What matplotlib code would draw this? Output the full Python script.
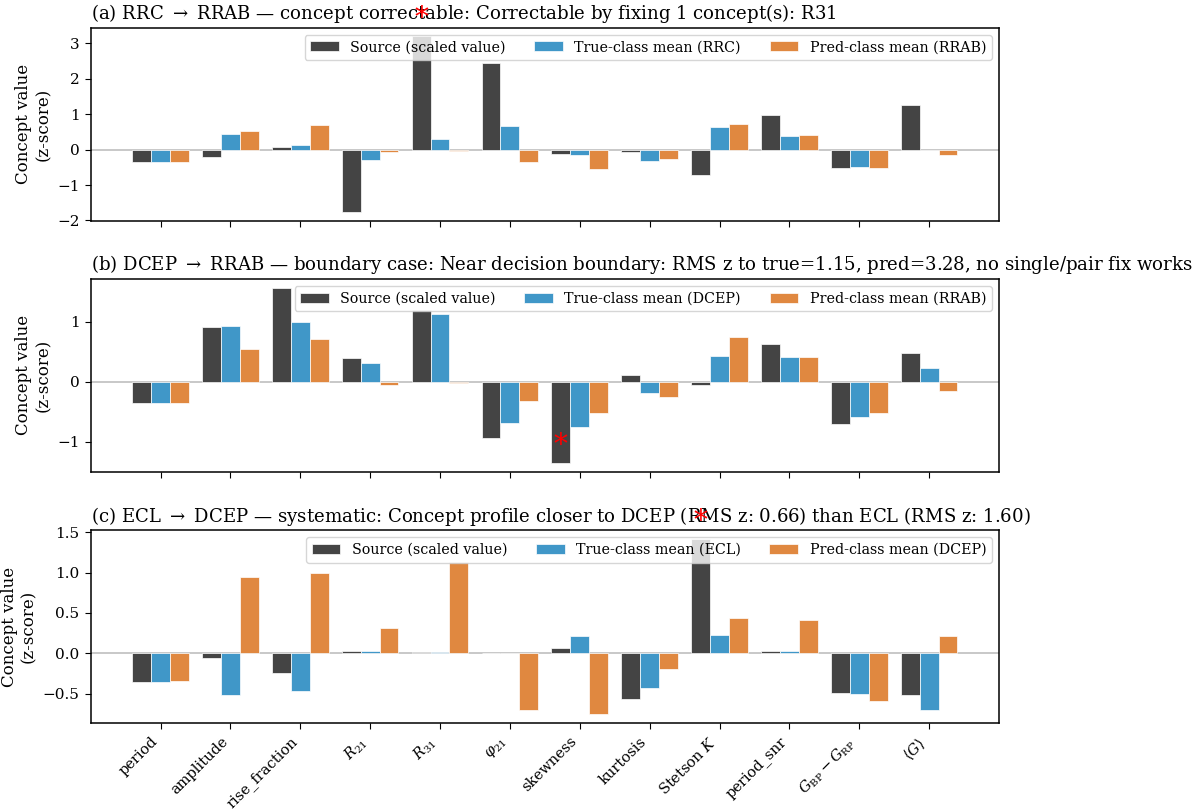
import numpy as np
import matplotlib
matplotlib.use("Agg")
import matplotlib.pyplot as plt

plt.rcParams['font.family'] = 'DejaVu Serif'
plt.rcParams['mathtext.fontset'] = 'dejavuserif'

concepts = ["period", "amplitude", "rise_fraction", r"$R_{21}$", r"$R_{31}$",
            r"$\varphi_{21}$", "skewness", "kurtosis", r"Stetson $K$", "period_snr",
            r"$G_{\rm BP}-G_{\rm RP}$", r"$\langle G\rangle$"]

# panel (a) RRC -> RRAB
src_a = [-0.36, -0.22, 0.08, -1.76, 3.20, 2.45, -0.11, -0.06, -0.73, 0.98, -0.52, 1.27]
true_a = [-0.36, 0.45, 0.12, -0.28, 0.29, 0.68, -0.15, -0.33, 0.65, 0.39, -0.49, 0.00]
pred_a = [-0.36, 0.54, 0.70, -0.07, -0.04, -0.34, -0.55, -0.26, 0.73, 0.40, -0.53, -0.15]

# panel (b) DCEP -> RRAB
src_b = [-0.35, 0.91, 1.57, 0.39, 1.20, -0.94, -1.36, 0.11, -0.05, 0.63, -0.70, 0.47]
true_b = [-0.35, 0.93, 0.99, 0.31, 1.13, -0.69, -0.76, -0.19, 0.43, 0.41, -0.59, 0.22]
pred_b = [-0.36, 0.55, 0.71, -0.05, -0.03, -0.33, -0.53, -0.25, 0.74, 0.41, -0.52, -0.15]

# panel (c) ECL -> DCEP
src_c = [-0.36, -0.06, -0.24, 0.025, 0.02, 0.0, 0.066, -0.57, 1.42, 0.03, -0.49, -0.52]
true_c = [-0.36, -0.52, -0.47, 0.025, 0.02, 0.0, 0.21, -0.43, 0.23, 0.03, -0.50, -0.70]
pred_c = [-0.35, 0.94, 0.99, 0.31, 1.13, -0.70, -0.76, -0.19, 0.44, 0.41, -0.59, 0.21]

titles = [r"(a) RRC $\rightarrow$ RRAB — concept correctable: Correctable by fixing 1 concept(s): R31",
          r"(b) DCEP $\rightarrow$ RRAB — boundary case: Near decision boundary: RMS z to true=1.15, pred=3.28, no single/pair fix works",
          r"(c) ECL $\rightarrow$ DCEP — systematic: Concept profile closer to DCEP (RMS z: 0.66) than ECL (RMS z: 1.60)"]
true_cls = ["RRC", "DCEP", "ECL"]
pred_cls = ["RRAB", "RRAB", "DCEP"]
starred = [4, 6, 8]

panels = [(src_a, true_a, pred_a), (src_b, true_b, pred_b), (src_c, true_c, pred_c)]

c_src = '#444444'
c_true = '#4097c8'
c_pred = '#e08840'

fig, axes = plt.subplots(3, 1, figsize=(12, 8.09), dpi=100, sharex=True)
plt.subplots_adjust(left=0.0756, right=0.8325, top=0.966, bottom=0.106, hspace=0.30)

x = np.arange(len(concepts))
w = 0.27
for i, ax in enumerate(axes):
    s, t, p = panels[i]
    ax.axhline(0, color='0.75', lw=1.2, zorder=1)
    ax.bar(x - w, s, w, color=c_src, edgecolor='white', linewidth=0.5,
           label="Source (scaled value)", zorder=2)
    ax.bar(x, t, w, color=c_true, edgecolor='white', linewidth=0.5,
           label="True-class mean ({})".format(true_cls[i]), zorder=2)
    ax.bar(x + w, p, w, color=c_pred, edgecolor='white', linewidth=0.5,
           label="Pred-class mean ({})".format(pred_cls[i]), zorder=2)
    ax.set_xlim(-1, 12)
    ax.set_title(titles[i], loc='left', fontsize=13.1)
    ax.set_ylabel("Concept value\n(z-score)", fontsize=12)
    ax.tick_params(axis='y', labelsize=11, length=4.5)
    ax.tick_params(axis='x', labelsize=10.5, length=4.5)
    ax.legend(loc='upper right', ncol=3, fontsize=10.3)
    for sp in ax.spines.values():
        sp.set_linewidth(1.1)
    # red marker on the concept that matters
    lo, hi = ax.get_ylim()
    k = starred[i]
    ax.text(k - w, s[k] + 0.09 * (hi - lo), "*", color='red', fontsize=20,
            ha='center', va='center', clip_on=False, zorder=5)
    ax.set_ylim(lo, hi)

axes[-1].set_xticks(x)
axes[-1].set_xticklabels(concepts, rotation=45, ha='right')

plt.savefig("out.png")
